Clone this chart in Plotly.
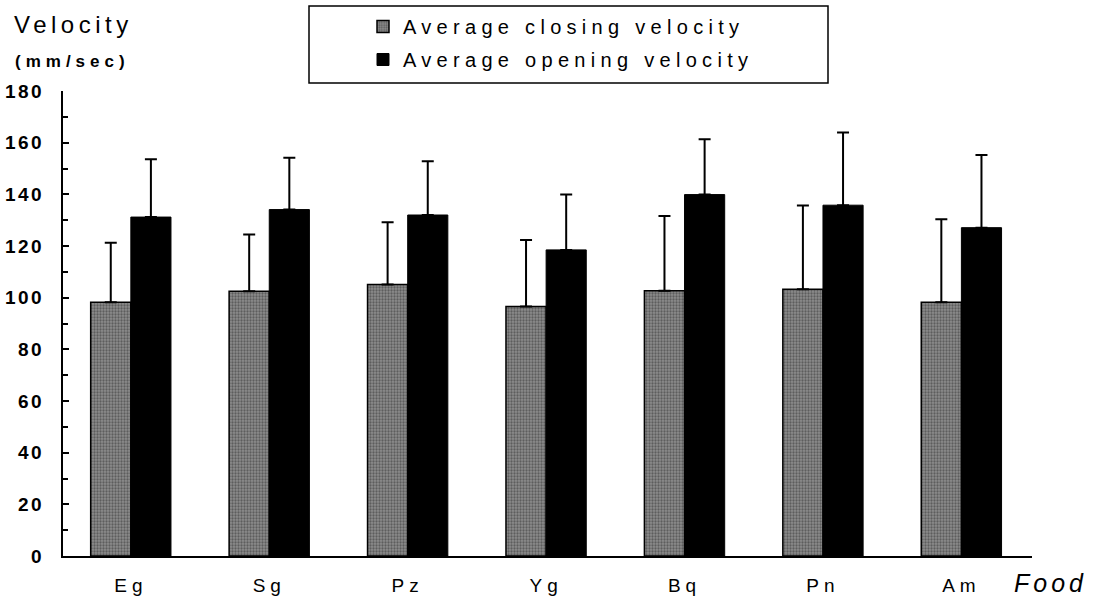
import plotly.graph_objects as go

# Food types and mean jaw velocities (mm/sec) with standard deviations
foods = ["Eg", "Sg", "Pz", "Yg", "Bq", "Pn", "Am"]
closing = [98.2, 102.5, 105.1, 96.6, 102.7, 103.3, 98.2]
closing_sd = [23.1, 22.0, 24.1, 25.7, 28.9, 32.4, 32.2]
opening = [131.2, 134.1, 132.0, 118.5, 139.9, 135.8, 127.1]
opening_sd = [22.4, 20.1, 20.8, 21.4, 21.4, 28.1, 28.1]
y_ticks = [0, 20, 40, 60, 80, 100, 120, 140, 160, 180]

FONT = "Liberation Sans, Arial, sans-serif"


def spaced(text, px):
    return f'<span style="letter-spacing:{px}px">{text}</span>'


# plot area in pixels
W, H = 1096, 599
L, R, T, B = 63, 64, 91, 43
pw, ph = W - L - R, H - T - B


def px_x(x):
    return (x - L) / pw


def px_y(y):
    return (H - B - y) / ph


fig = go.Figure()

fig.add_trace(go.Bar(
    x=foods, y=closing,
    name=spaced("Average closing velocity", 5.3),
    legendgroup="c",
    marker=dict(
        color="#8c8c8c",
        line=dict(color="black", width=1.5),
        pattern=dict(shape=".", fgcolor="#2e2e2e", size=3, solidity=0.45),
    ),
    error_y=dict(type="data", symmetric=False, array=closing_sd,
                 arrayminus=[0] * len(closing_sd),
                 color="black", thickness=2, width=6),
))
fig.add_trace(go.Bar(
    x=foods, y=opening,
    name=spaced("Average opening velocity", 5.3),
    legendgroup="o",
    marker=dict(color="black", line=dict(color="black", width=1)),
    error_y=dict(type="data", symmetric=False, array=opening_sd,
                 arrayminus=[0] * len(opening_sd),
                 color="black", thickness=2, width=6),
))

fig.update_layout(
    width=W, height=H,
    margin=dict(l=L, r=R, t=T, b=B, pad=0, autoexpand=False),
    paper_bgcolor="white", plot_bgcolor="white",
    barmode="group", bargap=0.42, bargroupgap=0,
    font=dict(family=FONT, color="black"),
    showlegend=True,
    legend=dict(
        xref="container", yref="container",
        x=363 / W, y=1 - 7 / H, xanchor="left", yanchor="top",
        bgcolor="rgba(0,0,0,0)", borderwidth=0,
        font=dict(size=20, family=FONT, color="black"),
        tracegroupgap=4,
    ),
    xaxis=dict(
        range=[-0.49, 6.51],
        showline=True, linecolor="black", linewidth=2,
        ticks="", showgrid=False, zeroline=False,
        tickvals=foods, ticktext=[spaced(f, 5) for f in foods],
        tickfont=dict(size=19, family=FONT, color="black"),
        tickangle=0,
        ticklabelstandoff=11,
    ),
    yaxis=dict(
        range=[0, 180],
        showline=True, linecolor="black", linewidth=2,
        showgrid=False, zeroline=False,
        ticks="inside", ticklen=6, tickwidth=2, tickcolor="black",
        tickvals=y_ticks, ticktext=[spaced(str(v), 2.5) for v in y_ticks],
        tickfont=dict(size=19, family=FONT, color="black", weight="bold"),
        ticklabelstandoff=13,
        minor=dict(dtick=10, tick0=0, ticks="inside", ticklen=5,
                   tickwidth=1.5, tickcolor="black"),
    ),
)

# legend frame
fig.add_shape(type="rect", xref="paper", yref="paper",
              x0=px_x(309), x1=px_x(828), y0=px_y(83), y1=px_y(6),
              line=dict(color="black", width=1.5), fillcolor="rgba(0,0,0,0)")

# axis titles
fig.add_annotation(xref="paper", yref="paper", x=px_x(12), y=px_y(24),
                   xanchor="left", yanchor="middle", showarrow=False,
                   text=spaced("Velocity", 4.5),
                   font=dict(size=24, family=FONT, color="black"))
fig.add_annotation(xref="paper", yref="paper", x=px_x(13), y=px_y(61),
                   xanchor="left", yanchor="middle", showarrow=False,
                   text=spaced("(mm/sec)", 5),
                   font=dict(size=17, family=FONT, color="black", weight="bold"))
fig.add_annotation(xref="paper", yref="paper", x=px_x(1012), y=px_y(583),
                   xanchor="left", yanchor="middle", showarrow=False,
                   text=spaced("<i>Food</i>", 4),
                   font=dict(size=25, family=FONT, color="black"))

fig.write_html("out.html")
